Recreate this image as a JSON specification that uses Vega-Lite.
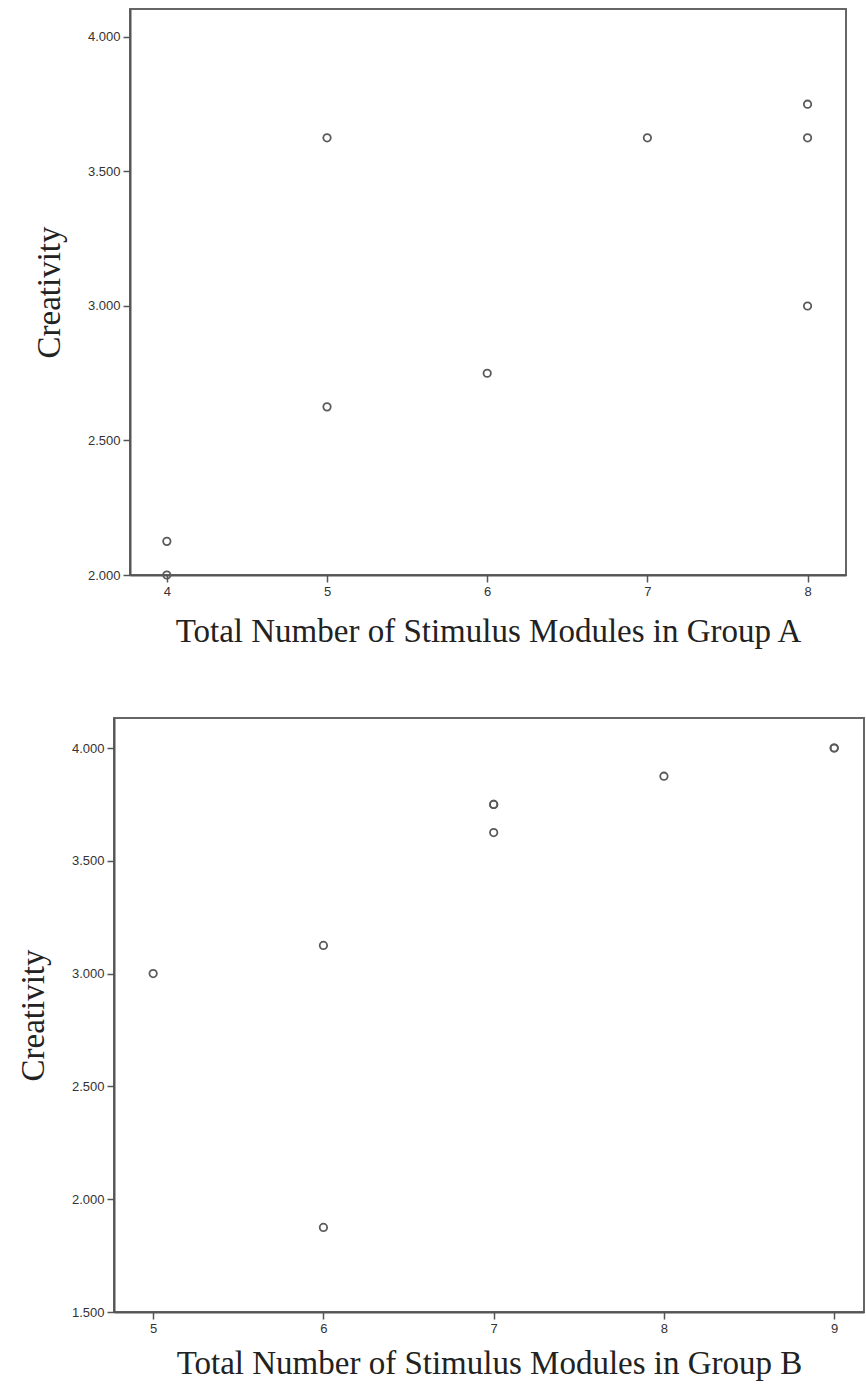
{
  "$schema": "https://vega.github.io/schema/vega-lite/v6.json",
  "background": "white",
  "padding": {"left": 16, "top": 8, "right": 0, "bottom": 0},
  "datasets": {
    "groupA": [
      {"modules": 4, "creativity": 2.125},
      {"modules": 4, "creativity": 2.0},
      {"modules": 5, "creativity": 3.625},
      {"modules": 5, "creativity": 2.625},
      {"modules": 6, "creativity": 2.75},
      {"modules": 7, "creativity": 3.625},
      {"modules": 8, "creativity": 3.75},
      {"modules": 8, "creativity": 3.625},
      {"modules": 8, "creativity": 3.0}
    ],
    "groupB": [
      {"modules": 5, "creativity": 3.0},
      {"modules": 6, "creativity": 3.125},
      {"modules": 6, "creativity": 1.875},
      {"modules": 7, "creativity": 3.75},
      {"modules": 7, "creativity": 3.75},
      {"modules": 7, "creativity": 3.625},
      {"modules": 8, "creativity": 3.875},
      {"modules": 9, "creativity": 4.0},
      {"modules": 9, "creativity": 4.0}
    ],
    "blank": [{"t": ""}]
  },
  "vconcat": [
    {
      "hconcat": [
        {
          "width": 16,
          "height": 10,
          "data": {"name": "blank"},
          "mark": {"type": "text", "opacity": 0},
          "encoding": {"text": {"field": "t"}},
          "view": {"stroke": null}
        },
        {
          "width": 716,
          "height": 566,
          "data": {"name": "groupA"},
          "mark": {"type": "point", "filled": false, "size": 55, "strokeWidth": 1.8, "color": "#5a5a5a", "opacity": 1, "clip": false},
          "encoding": {
            "x": {
              "field": "modules", "type": "quantitative",
              "scale": {"domain": [3.77, 8.24], "nice": false, "zero": false},
              "axis": {"values": [4, 5, 6, 7, 8], "title": "Total Number of  Stimulus Modules in Group A", "titlePadding": 17}
            },
            "y": {
              "field": "creativity", "type": "quantitative",
              "scale": {"domain": [2.0, 4.104], "nice": false, "zero": false},
              "axis": {"values": [2.0, 2.5, 3.0, 3.5, 4.0], "format": ".3f", "title": "Creativity"}
            }
          }
        }
      ],
      "spacing": 0,
      "bounds": "flush"
    },
    {
      "width": 750,
      "height": 594,
      "data": {"name": "groupB"},
      "mark": {"type": "point", "filled": false, "size": 55, "strokeWidth": 1.8, "color": "#5a5a5a", "opacity": 1, "clip": false},
      "encoding": {
        "x": {
          "field": "modules", "type": "quantitative",
          "scale": {"domain": [4.77, 9.175], "nice": false, "zero": false},
          "axis": {"values": [5, 6, 7, 8, 9], "title": "Total Number of  Stimulus Modules in Group B", "titlePadding": 12}
        },
        "y": {
          "field": "creativity", "type": "quantitative",
          "scale": {"domain": [1.5, 4.133], "nice": false, "zero": false},
          "axis": {"values": [1.5, 2.0, 2.5, 3.0, 3.5, 4.0], "format": ".3f", "title": "Creativity"}
        }
      }
    }
  ],
  "spacing": 68,
  "config": {
    "view": {"stroke": "#666666", "strokeWidth": 2},
    "axis": {
      "grid": false,
      "domainColor": "#555555",
      "domainWidth": 2,
      "tickColor": "#555555",
      "tickWidth": 1.5,
      "tickSize": 7,
      "labelFont": "Liberation Sans",
      "labelFontSize": 13,
      "labelColor": "#333333",
      "labelPadding": 3,
      "titleFont": "Liberation Serif",
      "titleFontSize": 33,
      "titleFontWeight": "normal",
      "titleColor": "#222222"
    },
    "axisY": {"titlePadding": 21},
    "axisX": {"labelFlush": false}
  }
}
